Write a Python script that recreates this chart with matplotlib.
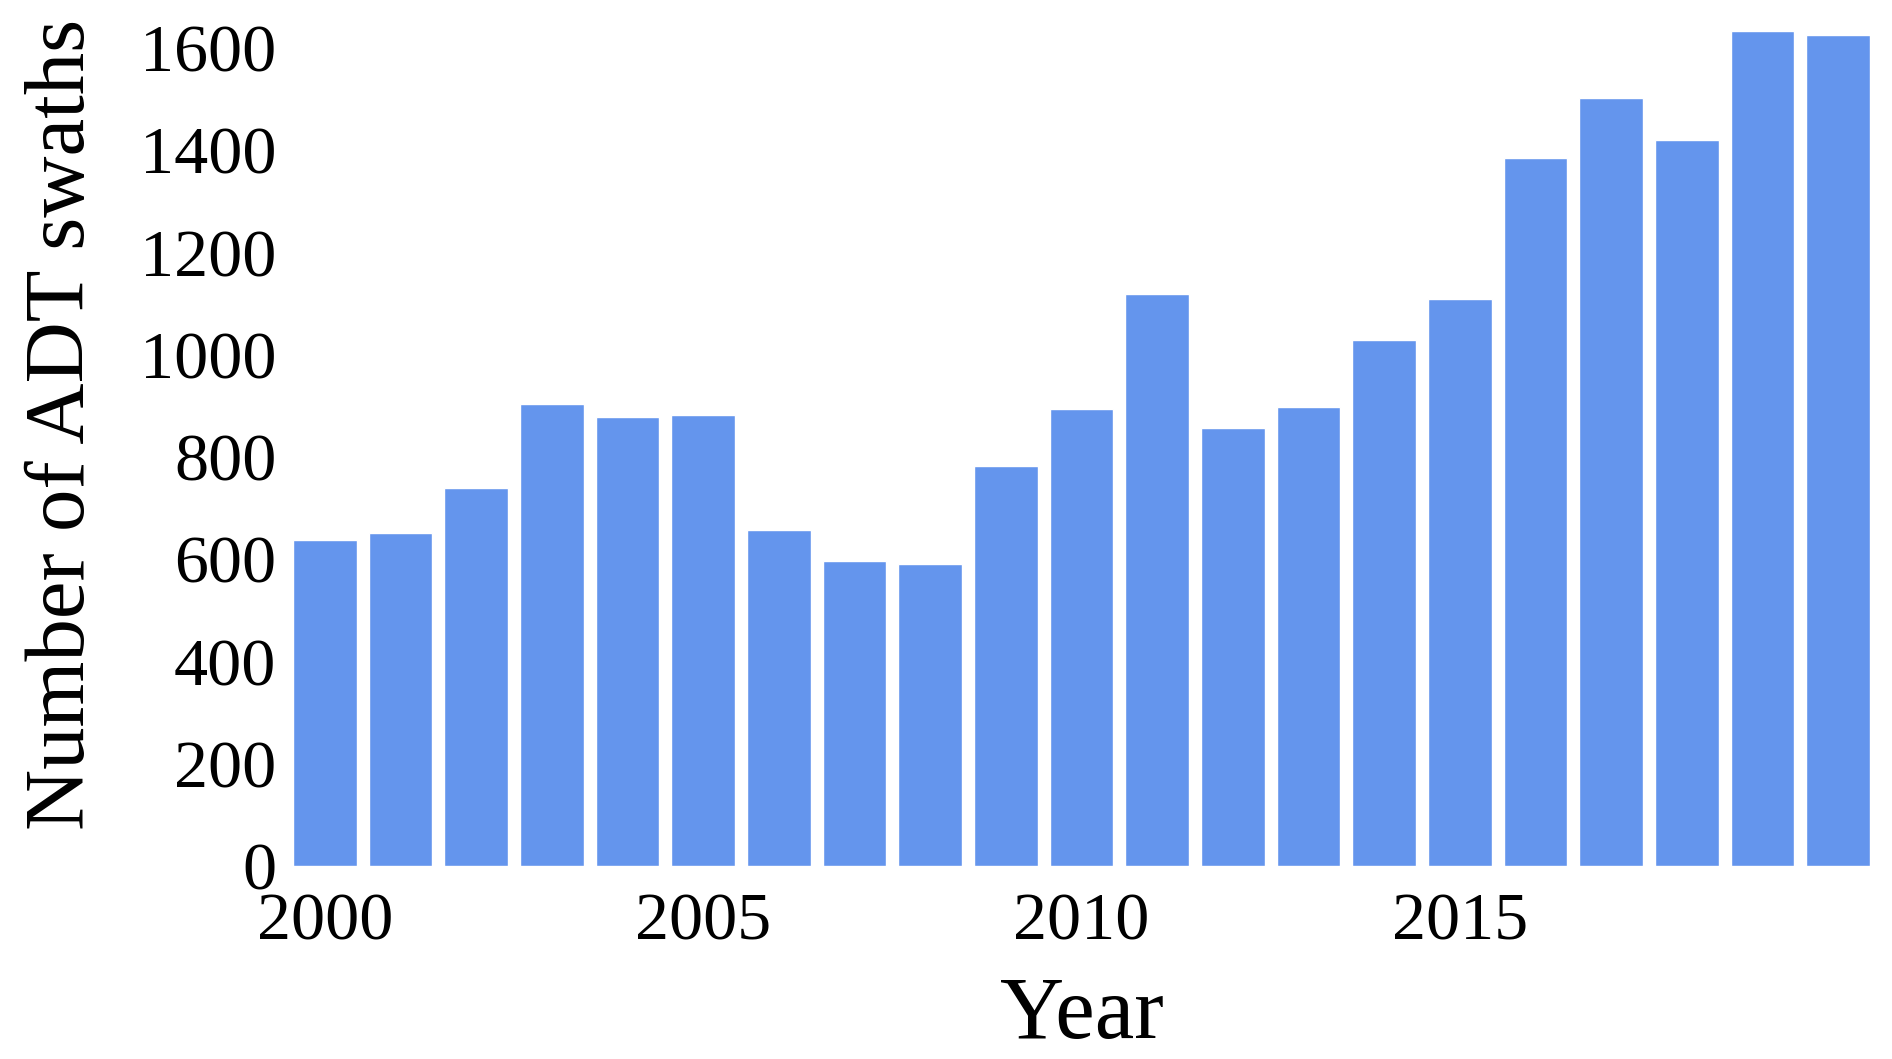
import matplotlib.pyplot as plt

## yearly counts
years = list(range(2000, 2021))
swaths = [637, 651, 739, 904, 878, 883, 658, 597, 590, 783, 894,
          1119, 857, 899, 1029, 1109, 1385, 1503, 1421, 1633, 1626]
year_ticks = [2000, 2005, 2010, 2015]
count_ticks = [0, 200, 400, 600, 800, 1000, 1200, 1400, 1600]

plt.rcParams['font.family'] = ['Liberation Serif', 'DejaVu Serif']

fig = plt.figure(figsize=(18.92, 10.59), dpi=100)
ax = fig.add_axes([0.1549, 0.1822, 0.8335, 0.8012])

## the bars, with a thin white edge
ax.bar(years, swaths, width=0.84, color='cornflowerblue',
       edgecolor='white', linewidth=1)

ax.set_xlim(years[0] - 0.42, years[-1] + 0.42)
ax.set_ylim(0, 1660)
ax.set_xticks(year_ticks)
ax.set_yticks(count_ticks)
ax.tick_params(axis='both', length=0, labelsize=49)
ax.tick_params(axis='x', pad=19)
ax.tick_params(axis='y', pad=12)

for side in ['top', 'right', 'bottom', 'left']:
    ax.spines[side].set_visible(False)

ax.set_xlabel('Year', fontsize=64)
ax.set_ylabel('Number of ADT swaths', fontsize=61)
ax.xaxis.set_label_coords(0.5, -0.129)
ax.yaxis.set_label_coords(-0.121, 0.52)

fig.savefig('out.png', dpi=100)
